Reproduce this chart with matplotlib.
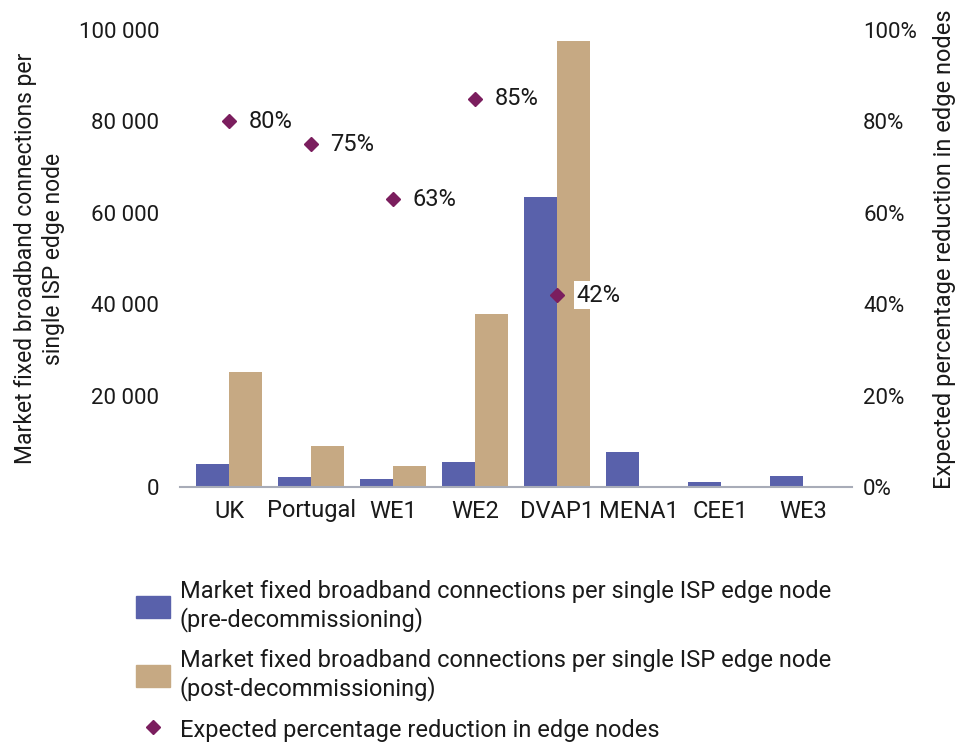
import numpy as np
import matplotlib.pyplot as plt
from matplotlib.patches import Patch
from matplotlib.lines import Line2D
from matplotlib.ticker import FuncFormatter, PercentFormatter

plt.rcParams['font.family'] = ['Roboto', 'DejaVu Sans']
plt.rcParams['font.size'] = 17

# Données par marché
markets = ['UK', 'Portugal', 'WE1', 'WE2', 'DVAP1', 'MENA1', 'CEE1', 'WE3']
pre = [5000, 2200, 1700, 5500, 63500, 7600, 1000, 2500]
post = [25200, 9000, 4700, 37900, 97500, np.nan, np.nan, np.nan]
reduction = [0.80, 0.75, 0.63, 0.85, 0.42]   # seulement les 5 premiers marchés

c_pre = '#5961AB'
c_post = '#C6A983'
c_red = '#7B1E5E'
c_txt = '#1a1a1a'

fig = plt.figure(figsize=(9.57, 7.47), dpi=100)
ax = fig.add_axes([180/957, 1 - 487/747, 672/957, 457/747])

x = np.arange(len(markets))
w = 0.4
ax.bar(x - w/2, pre, w, color=c_pre)
ax.bar(x + w/2, post, w, color=c_post)

ax.set_xlim(-0.6, 7.6)
ax.set_ylim(0, 100000)
ax.set_yticks(np.arange(0, 100001, 20000))
ax.yaxis.set_major_formatter(FuncFormatter(lambda v, p: f'{int(v):,}'.replace(',', ' ')))
ax.set_xticks(x)
ax.set_xticklabels(markets)
ax.tick_params(axis='both', length=0, colors=c_txt)
ax.tick_params(axis='x', pad=9)
ax.tick_params(axis='y', pad=15, labelsize=16)
for s in ['top', 'left', 'right']:
    ax.spines[s].set_visible(False)
ax.spines['bottom'].set_color('#A8ACB8')
ax.spines['bottom'].set_linewidth(1.5)
ax.set_ylabel('Market fixed broadband connections per\nsingle ISP edge node',
              color=c_txt, fontsize=16.5, linespacing=1.3)
ax.yaxis.set_label_coords(-0.171, 0.5)

# Axe secondaire : réduction attendue
ax2 = ax.twinx()
ax2.set_ylim(0, 1)
ax2.set_yticks(np.arange(0, 1.01, 0.2))
ax2.yaxis.set_major_formatter(PercentFormatter(1.0, decimals=0))
ax2.tick_params(axis='y', length=0, pad=8, colors=c_txt, labelsize=16)
for s in ['top', 'left', 'right', 'bottom']:
    ax2.spines[s].set_visible(False)
ax2.set_ylabel('Expected percentage reduction in edge nodes',
               color=c_txt, fontsize=17)
ax2.yaxis.set_label_coords((933 - 180) / 672, 0.52)

xr = x[:len(reduction)]
ax2.plot(xr, reduction, 'D', ms=7.5, color=c_red, ls='none')
for xi, r in zip(xr, reduction):
    bbox = dict(facecolor='white', edgecolor='none', pad=2) if r < 0.5 else None
    ax2.annotate(f'{r:.0%}', (xi, r), xytext=(14, 0), textcoords='offset points',
                 ha='left', va='center', color=c_txt, bbox=bbox)

handles = [
    Patch(color=c_pre, label='Market fixed broadband connections per single ISP edge node\n(pre-decommissioning)'),
    Patch(color=c_post, label='Market fixed broadband connections per single ISP edge node\n(post-decommissioning)'),
    Line2D([], [], marker='D', ms=7.5, color=c_red, ls='none',
           label='Expected percentage reduction in edge nodes'),
]
leg = fig.legend(handles=handles, loc='upper left', bbox_to_anchor=(136/957, 1 - 580/747),
                 frameon=False, borderpad=0, borderaxespad=0, handlelength=1.44,
                 handleheight=1.06, handletextpad=0.42, labelspacing=0.72)
for t in leg.get_texts():
    t.set_color(c_txt)

plt.savefig('out.png', dpi=100)
